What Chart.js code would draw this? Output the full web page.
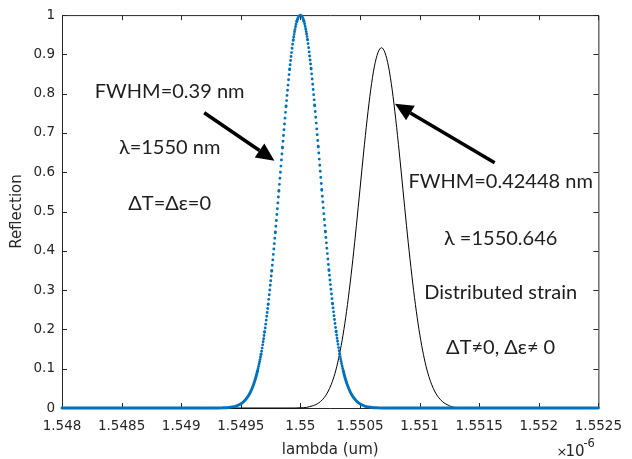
<!DOCTYPE html>
<html>
<head>
<meta charset="utf-8">
<script src="https://cdn.jsdelivr.net/npm/chart.js@4.4.0/dist/chart.umd.min.js"></script>
<style>
  html, body { margin: 0; padding: 0; background: #fff; }
  #wrap { width: 632px; height: 459px; position: relative; }
</style>
</head>
<body>
<div id="wrap"><canvas id="fbgChart"></canvas></div>
<script>
// unstrained grating, lambda in um (axis carries the x1e-6 factor)
const refLambda = [1.548, 1.5493, 1.54935, 1.5494, 1.54943, 1.54946, 1.54949, 1.54952, 1.54955,
  1.54958, 1.54961, 1.54964, 1.54967, 1.5497, 1.54973, 1.54976, 1.54979, 1.54982, 1.54985,
  1.54988, 1.54991, 1.54994, 1.54997, 1.55, 1.55003, 1.55006, 1.55009, 1.55012, 1.55015,
  1.55018, 1.55021, 1.55024, 1.55027, 1.5503, 1.55033, 1.55036, 1.55039, 1.55042, 1.55045,
  1.55048, 1.55051, 1.55054, 1.55057, 1.5506, 1.55065, 1.5507, 1.5525];
const refReflection = [0, 0, 0.0005, 0.0014, 0.0027, 0.0049, 0.0087, 0.015, 0.025,
  0.040, 0.062, 0.094, 0.137, 0.194, 0.265, 0.350, 0.448, 0.554, 0.664,
  0.769, 0.863, 0.937, 0.984, 1, 0.984, 0.937, 0.863, 0.769, 0.664,
  0.554, 0.448, 0.350, 0.265, 0.194, 0.137, 0.094, 0.062, 0.040, 0.025,
  0.015, 0.0087, 0.0049, 0.0027, 0.0014, 0.0005, 0, 0];

// grating under distributed strain
const strainLambda = [1.548, 1.54995, 1.55, 1.55005, 1.55008, 1.55011, 1.55014, 1.55017,
  1.5502, 1.55023, 1.55026, 1.55029, 1.55032, 1.55035, 1.55038, 1.55041, 1.55044, 1.55047,
  1.5505, 1.55053, 1.55056, 1.55059, 1.55062, 1.55065, 1.55068, 1.55071, 1.55074, 1.55077,
  1.5508, 1.55083, 1.55086, 1.55089, 1.55092, 1.55095, 1.55098, 1.55101, 1.55104, 1.55107,
  1.5511, 1.55113, 1.55116, 1.55119, 1.55122, 1.5513, 1.5525];
const strainReflection = [0, 0, 0.0005, 0.0014, 0.0036, 0.0062, 0.0103, 0.0168,
  0.0265, 0.0407, 0.0608, 0.088, 0.125, 0.172, 0.230, 0.299, 0.378, 0.465,
  0.557, 0.649, 0.735, 0.810, 0.868, 0.904, 0.917, 0.904, 0.868, 0.810,
  0.735, 0.649, 0.557, 0.465, 0.378, 0.299, 0.230, 0.172, 0.125, 0.088,
  0.0608, 0.0407, 0.0265, 0.0168, 0.0103, 0.0014, 0];

const xTicks = [1.548, 1.5485, 1.549, 1.5495, 1.55, 1.5505, 1.551, 1.5515, 1.552, 1.5525];
const xTickLabels = ['1.548', '1.5485', '1.549', '1.5495', '1.55', '1.5505', '1.551', '1.5515', '1.552', '1.5525'];
const yTicks = [0, 0.1, 0.2, 0.3, 0.4, 0.5, 0.6, 0.7, 0.8, 0.9, 1];
const yTickLabels = ['0', '0.1', '0.2', '0.3', '0.4', '0.5', '0.6', '0.7', '0.8', '0.9', '1'];

// text notes, placed in data coordinates
const notes = [
  { text: 'FWHM=0.39 nm', x: 1.548903, y: 0.805 },
  { text: 'λ=1550 nm', x: 1.548903, y: 0.662 },
  { text: 'ΔT=Δε=0', x: 1.548903, y: 0.520 },
  { text: 'FWHM=0.42448 nm', x: 1.55168, y: 0.576 },
  { text: 'λ =1550.646', x: 1.55168, y: 0.4315 },
  { text: 'Distributed strain', x: 1.55168, y: 0.2944 },
  { text: 'ΔT≠0, Δε≠ 0', x: 1.55168, y: 0.1548 }
];
const arrows = [
  { from: [1.549193, 0.7513], to: [1.549782, 0.6294] },
  { from: [1.551630, 0.6244], to: [1.550793, 0.7741] }
];

const AXIS_COLOR = '#262626';
const TICK_FONT = { family: 'DejaVu Sans', size: 13.5 };

// matlab style ':' line - dots get sparse where the curve is steep
function dotPattern(ctx) {
  const dx = Math.abs(ctx.p1.x - ctx.p0.x);
  const dy = Math.abs(ctx.p1.y - ctx.p0.y);
  if (dx === 0) return [];
  const slope = dy / dx;
  const gap = 0.5 * Math.sqrt(1 + slope * slope);
  return gap < 2.0 ? [] : [0, gap];
}

function drawArrow(ctx, x0, y0, x1, y1) {
  const ang = Math.atan2(y1 - y0, x1 - x0);
  const headLen = 18, headHalf = 8.5;
  const bx = x1 - headLen * Math.cos(ang);
  const by = y1 - headLen * Math.sin(ang);
  ctx.beginPath();
  ctx.moveTo(x0, y0);
  ctx.lineTo(bx, by);
  ctx.stroke();
  ctx.beginPath();
  ctx.moveTo(x1, y1);
  ctx.lineTo(bx + headHalf * Math.sin(ang), by - headHalf * Math.cos(ang));
  ctx.lineTo(bx - headHalf * Math.sin(ang), by + headHalf * Math.cos(ang));
  ctx.closePath();
  ctx.fill();
}

// box around the axes with inward ticks on all four sides
const framePlugin = {
  id: 'frame',
  beforeDatasetsDraw(chart) {
    const { ctx, chartArea: a, scales: { x, y } } = chart;
    ctx.save();
    ctx.strokeStyle = AXIS_COLOR;
    ctx.lineWidth = 1;
    ctx.beginPath();
    ctx.rect(a.left + 0.5, a.top + 0.5, a.right - a.left, a.bottom - a.top);
    xTicks.forEach(v => {
      const px = Math.round(x.getPixelForValue(v)) + 0.5;
      ctx.moveTo(px, a.bottom);
      ctx.lineTo(px, a.bottom - 5);
      ctx.moveTo(px, a.top);
      ctx.lineTo(px, a.top + 5);
    });
    yTicks.forEach(v => {
      const py = Math.round(y.getPixelForValue(v)) + 0.5;
      ctx.moveTo(a.left, py);
      ctx.lineTo(a.left + 5, py);
      ctx.moveTo(a.right, py);
      ctx.lineTo(a.right - 5, py);
    });
    ctx.stroke();
    ctx.restore();
  },
  afterDraw(chart) {
    const { ctx, chartArea: a, scales: { x, y } } = chart;
    ctx.save();
    ctx.fillStyle = '#1e1e1e';
    ctx.strokeStyle = '#000';
    ctx.font = '20px Lato';
    ctx.textAlign = 'center';
    ctx.textBaseline = 'middle';
    notes.forEach(n => {
      ctx.fillText(n.text, x.getPixelForValue(n.x), y.getPixelForValue(n.y));
    });
    ctx.fillStyle = '#000';
    ctx.lineWidth = 3.5;
    arrows.forEach(ar => {
      drawArrow(ctx,
        x.getPixelForValue(ar.from[0]), y.getPixelForValue(ar.from[1]),
        x.getPixelForValue(ar.to[0]), y.getPixelForValue(ar.to[1]));
    });

    // exponent of the x axis
    ctx.fillStyle = AXIS_COLOR;
    ctx.textAlign = 'left';
    ctx.textBaseline = 'alphabetic';
    ctx.font = '13px DejaVu Sans';
    ctx.fillText('×', a.right - 42, 456);
    ctx.font = '15px DejaVu Sans';
    ctx.fillText('10', a.right - 33, 456);
    ctx.font = '11.5px DejaVu Sans';
    ctx.fillText('-6', a.right - 15, 447);
    ctx.restore();
  }
};

const toPoints = (xs, ys) => xs.map((v, i) => ({ x: v, y: ys[i] }));

new Chart(document.getElementById('fbgChart'), {
  type: 'line',
  data: {
    datasets: [
      {
        label: 'unstrained',
        data: toPoints(refLambda, refReflection),
        borderColor: '#0072BD',
        borderWidth: 2.9,
        borderCapStyle: 'round',
        pointRadius: 0,
        cubicInterpolationMode: 'monotone',
        clip: false,
        segment: { borderDash: dotPattern }
      },
      {
        label: 'distributed strain',
        data: toPoints(strainLambda, strainReflection),
        borderColor: '#000000',
        borderWidth: 1,
        pointRadius: 0,
        cubicInterpolationMode: 'monotone',
        clip: false
      }
    ]
  },
  options: {
    responsive: true,
    maintainAspectRatio: false,
    animation: false,
    layout: { padding: { top: 14, right: 27, left: 0, bottom: 0 } },
    plugins: {
      legend: { display: false },
      tooltip: { enabled: false }
    },
    scales: {
      x: {
        type: 'linear',
        min: 1.548,
        max: 1.5525,
        afterBuildTicks: s => { s.ticks = xTicks.map(v => ({ value: v })); },
        afterFit: s => { s.height = 51; },
        grid: { display: false, drawTicks: false },
        border: { display: false },
        ticks: {
          color: AXIS_COLOR,
          font: TICK_FONT,
          padding: 10,
          maxRotation: 0,
          autoSkip: false,
          callback: (v, i) => xTickLabels[i]
        },
        title: {
          display: true,
          text: 'lambda (um)',
          color: AXIS_COLOR,
          font: { family: 'DejaVu Sans', size: 15 },
          padding: { top: 0, bottom: 0 }
        }
      },
      y: {
        type: 'linear',
        min: 0,
        max: 1,
        afterBuildTicks: s => { s.ticks = yTicks.map(v => ({ value: v })); },
        afterFit: s => { s.width = 62; },
        grid: { display: false, drawTicks: false },
        border: { display: false },
        ticks: {
          color: AXIS_COLOR,
          font: TICK_FONT,
          padding: 7,
          autoSkip: false,
          callback: (v, i) => yTickLabels[i]
        },
        title: {
          display: true,
          text: 'Reflection',
          color: AXIS_COLOR,
          font: { family: 'DejaVu Sans', size: 15 },
          padding: { top: 8.5, bottom: 0 }
        }
      }
    }
  },
  plugins: [framePlugin]
});
</script>
</body>
</html>
